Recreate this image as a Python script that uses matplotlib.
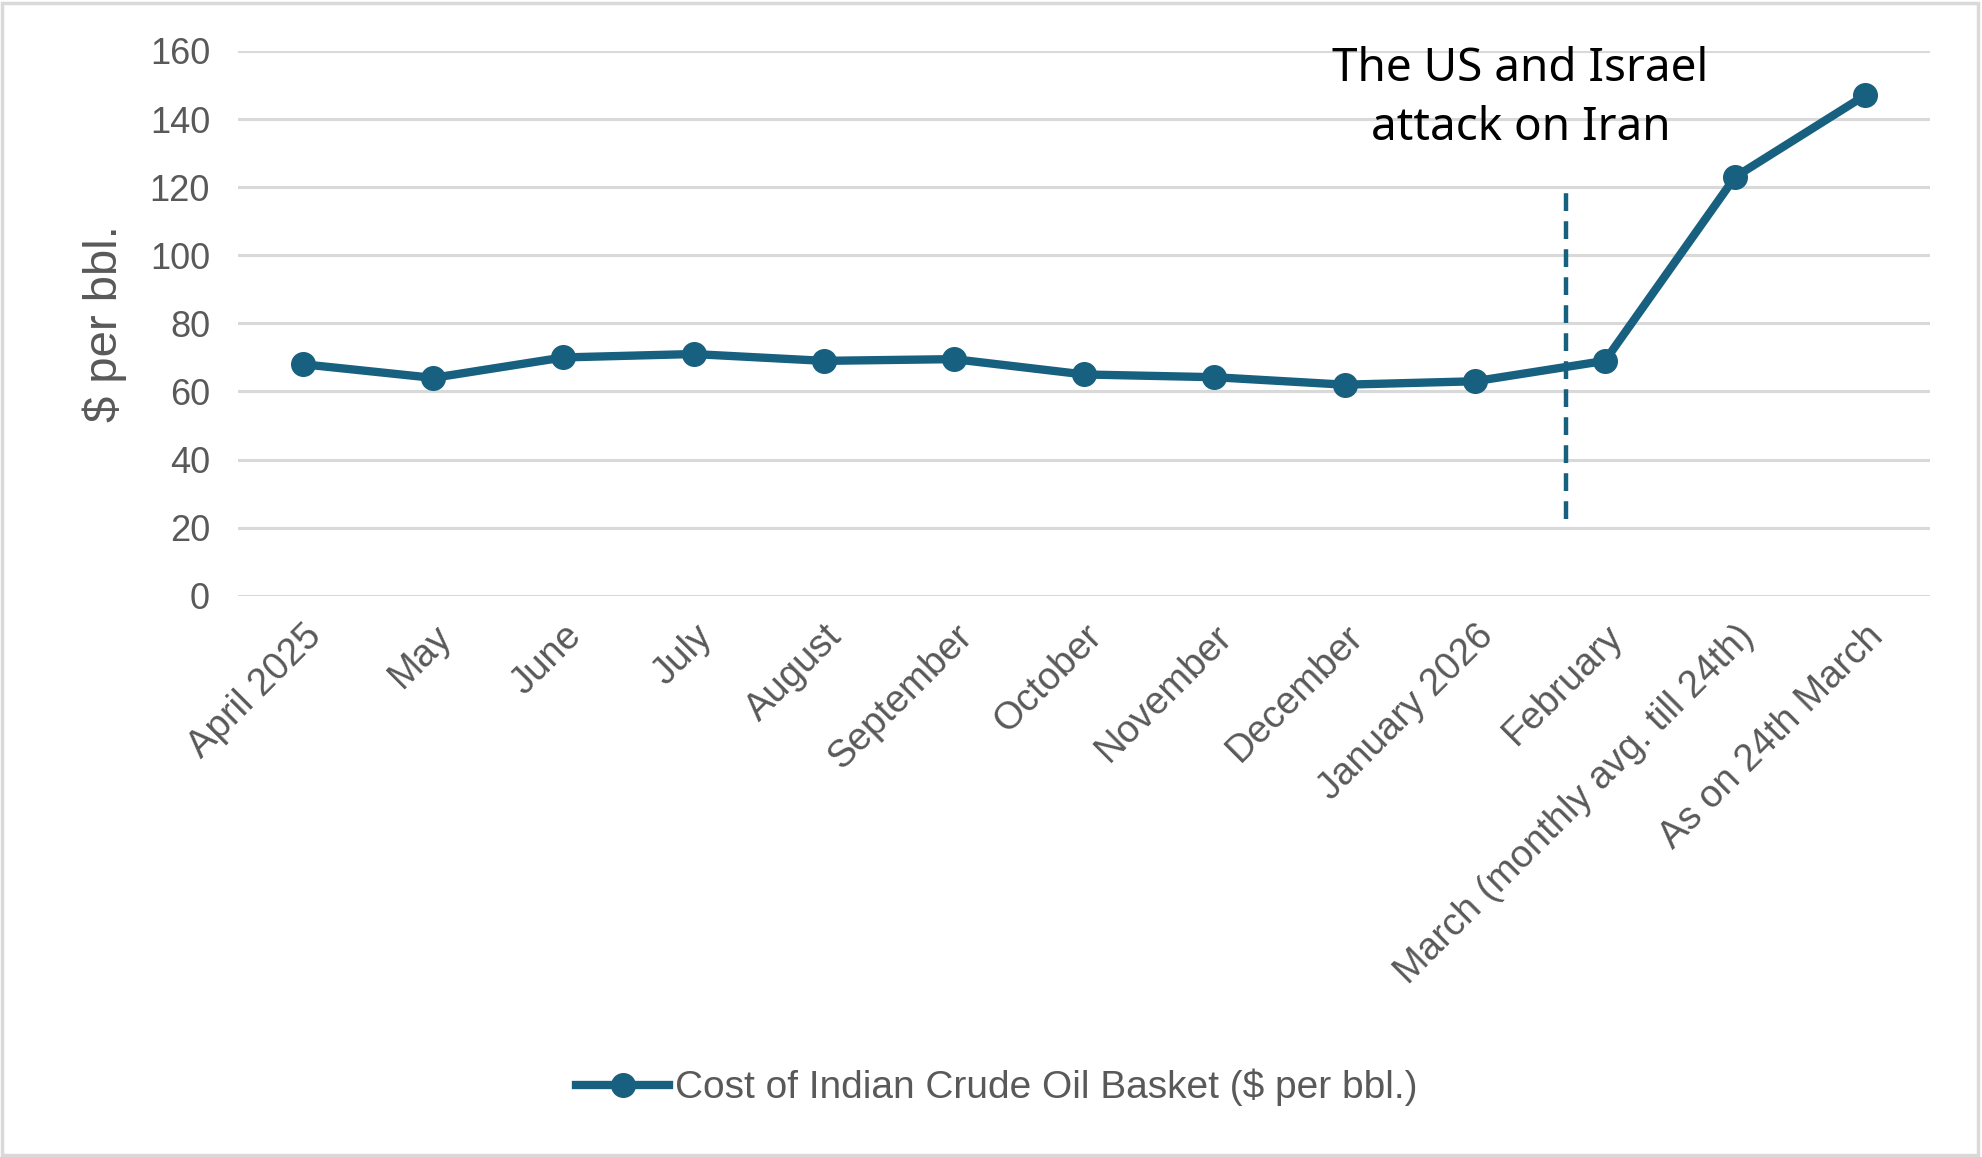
import matplotlib
matplotlib.use("Agg")
import matplotlib.pyplot as plt
from matplotlib.lines import Line2D
from matplotlib.patches import Rectangle

# | ================= Data ================= |

CATEGORIES = [
    "April 2025", "May", "June", "July", "August", "September", "October",
    "November", "December", "January 2026", "February",
    "March (monthly avg. till 24th)", "As on 24th March",
]
PRICES = [68, 64, 70, 71, 69, 69.5, 65, 64.2, 62, 63, 69, 123, 147]

Y_TICKS = [0, 20, 40, 60, 80, 100, 120, 140, 160]
EVENT_X = 9.7            # between January 2026 and February
EVENT_SPAN = (22.5, 120)
EVENT_LABEL = "The US and Israel\nattack on Iran"
SERIES_LABEL = "Cost of Indian Crude Oil Basket ($ per bbl.)"
Y_LABEL = "$ per bbl."

# | ================= Palette ================= |

LINE_COLOR = "#17607f"
GRID_COLOR = "#d9d9d9"
TEXT_COLOR = "#595959"

plt.rcParams["font.family"] = ["Liberation Sans", "DejaVu Sans"]

fig = plt.figure(figsize=(19.82, 11.57), dpi=100)
ax = fig.add_axes([0.12, 0.485, 0.854, 0.471])

xs = list(range(len(CATEGORIES)))
ax.plot(xs, PRICES, color=LINE_COLOR, linewidth=6, marker="o",
        markersize=17, markerfacecolor=LINE_COLOR, markeredgecolor=LINE_COLOR,
        zorder=3, solid_capstyle="round", solid_joinstyle="round")

ax.plot([EVENT_X, EVENT_X], list(EVENT_SPAN), color=LINE_COLOR,
        linewidth=3.2, linestyle=(0, (4.0, 2.3)), zorder=2)

ax.text(9.35, 146, EVENT_LABEL, ha="center", va="center", fontsize=33,
        color="black", linespacing=1.37, family=["Noto Sans", "DejaVu Sans"])

ax.set_xlim(-0.5, len(CATEGORIES) - 0.5)
ax.set_ylim(0, 160)
ax.set_yticks(Y_TICKS)
ax.set_yticklabels([str(t) for t in Y_TICKS], fontsize=26, color=TEXT_COLOR)
ax.set_xticks(xs)
ax.set_xticklabels(CATEGORIES, rotation=45, ha="right", rotation_mode="anchor",
                   fontsize=27.5, color=TEXT_COLOR)
ax.tick_params(axis="both", length=0)
ax.tick_params(axis="y", pad=20)
ax.tick_params(axis="x", pad=16)

ax.yaxis.grid(True, color=GRID_COLOR, linewidth=2.2)
ax.set_axisbelow(True)
for s in ax.spines.values():
    s.set_visible(False)

ax.set_ylabel(Y_LABEL, fontsize=34, color=TEXT_COLOR, labelpad=16)

handle = Line2D([0], [0], color=LINE_COLOR, linewidth=6, marker="o",
                markersize=17, markerfacecolor=LINE_COLOR)
fig.legend(handles=[handle], labels=[SERIES_LABEL], loc="center",
           bbox_to_anchor=(0.503, 0.06), frameon=False, fontsize=28,
           labelcolor=TEXT_COLOR, handlelength=2.4, handletextpad=0.15)

# light chart-area border
fig.patches.append(Rectangle((0.001, 0.002), 0.997, 0.995, transform=fig.transFigure,
                             fill=False, edgecolor=GRID_COLOR, linewidth=2.5))

fig.savefig("out.png", dpi=100, facecolor="white")
